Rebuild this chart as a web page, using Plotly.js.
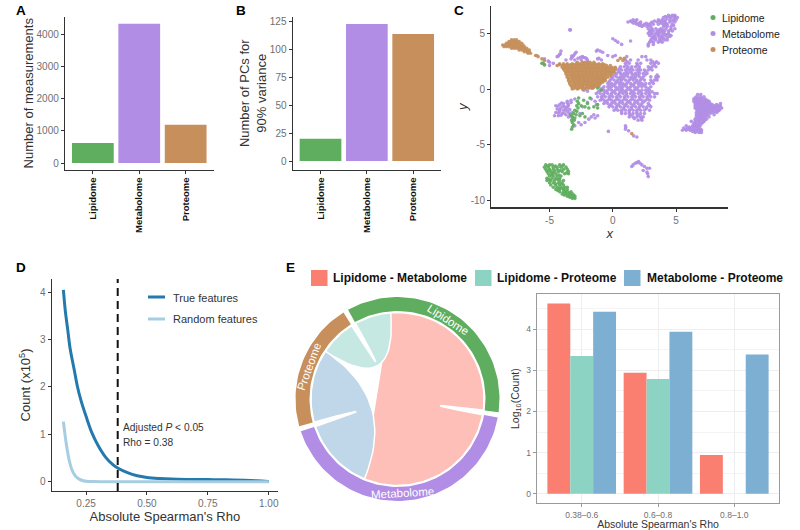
<!DOCTYPE html>
<html>
<head>
<meta charset="utf-8">
<script src="https://cdn.plot.ly/plotly-3.0.1.min.js"></script>
<style>html,body{margin:0;padding:0;background:#fff}#chart{width:800px;height:530px}</style>
</head>
<body>
<div id="chart"></div>
<script>
// ---------- data ----------
const omics = ['Lipidome', 'Metabolome', 'Proteome'];
const omicColors = ['#5fae60', '#b18de5', '#c68f5b'];
const measurements = [625, 4320, 1190];
const pcsFor90 = [20, 123, 114];

// UMAP points, each row: [y, x, x, ...]
const lipidomeRows = [
 [-6.8,-5.3,-5.0,-4.8,-4.2,-3.9],[-7.0,-5.4,-5.1,-4.7,-4.4,-4.1,-3.7],[-7.2,-5.3,-5.0,-4.7,-4.4,-3.9,-3.6],
 [-7.4,-5.2,-4.9,-4.6,-4.3,-4.0,-3.5],[-7.6,-5.1,-4.8,-4.5,-3.8,-3.5],[-7.8,-5.0,-4.7,-4.4,-4.1],
 [-8.0,-5.2,-4.8,-4.5,-4.2],[-8.2,-5.2,-4.9,-4.6,-4.2,-3.9],[-8.4,-5.0,-4.7,-4.3,-4.0],[-8.6,-4.9,-4.5,-4.2,-3.9],
 [-8.8,-4.7,-4.4,-4.1,-3.8,-3.6],[-9.0,-4.5,-4.2,-3.9,-3.6],[-9.2,-4.2,-3.9,-3.6,-3.3],[-9.4,-4.0,-3.7,-3.4,-3.2],
 [-9.6,-3.6,-3.3,-3.0],[-9.8,-3.2,-3.0],
 [-6.9,-5.15,-4.55,-4.0],[-7.3,-5.05,-4.15],[-7.5,-4.75,-3.65],[-7.7,-4.85,-4.25],[-8.1,-5.05,-4.35],[-8.5,-4.55,-4.1],
 [-8.9,-4.25,-3.95],[-9.1,-4.35,-3.75],[-9.3,-3.75,-3.45],[-9.5,-3.85,-3.5,-3.1],[-9.7,-3.4,-3.1],
 [-0.8,-2.7,-1.8],[-1.0,-2.3],[-1.1,-2.8],[-1.3,-2.7,-2.0],[-1.4,-1.2],[-1.5,-2.85,-2.5],[-1.6,-2.2,-1.5],[-1.7,-2.75,-1.9,-1.2],
 [-1.9,-3.0],[-2.0,-2.85],[-2.2,-3.1,-2.4],[-2.3,-2.9,-3.35],[-2.4,-2.6],[-2.5,-3.2,-2.2],[-2.6,-3.0],[-2.8,-3.05,-3.25],
 [-3.0,-3.2],[-3.2,-3.1],[-3.4,-3.2],[-3.6,-3.25],[2.3,-5.6,-5.5],[2.15,-5.4],[0.2,-1.5],[0.1,-1.2],[-0.1,-0.9]
];
const metabolomeRows = [
 [6.6,4.4,4.7,4.9],[6.4,4.0,4.3,4.6,4.9,5.1],[6.2,1.6,1.9,3.6,3.9,4.2,4.5,4.8,5.0],[6.0,1.2,1.5,1.8,2.2,3.1,3.5,3.8,4.1,4.5,4.9],
 [5.8,1.9,2.2,2.5,2.8,3.2,3.6,4.0,4.3,4.7],[5.6,2.3,2.7,3.0,4.0,4.3,4.6],[5.4,2.8,3.1,3.4,3.8,4.2,4.6,4.9],
 [5.2,2.9,3.2,3.5,3.8,4.1,4.4,4.7],[5.0,2.8,3.1,3.4,3.7,4.0,4.4],[4.8,2.9,3.3,3.6,3.9,4.2,4.6],[4.6,3.1,3.4,3.7,4.0,4.3],
 [4.4,3.0,3.4,3.7,4.1,4.3],[4.2,2.9,3.2,3.6,3.9],[4.0,2.8,3.2],[3.85,2.8],
 [6.5,4.15,4.55,4.85],[6.1,1.4,1.75,3.3,3.7,4.05,4.7],[5.9,1.65,2.05,2.65,3.0,3.85,4.2],[5.7,2.1,2.45,2.85,4.15,4.8],
 [5.3,3.05,3.65,3.95,4.55],[5.1,2.95,3.6,3.95],[4.9,3.0,3.55,4.15,4.4],[4.7,3.2,3.85,4.5],[4.5,3.25,3.9],[4.3,3.05,3.8],
 [5.3,-3.4,-3.35],[4.5,0],[4.35,0.2],[4.2,0.4],[4.0,0.7],[4.3,1.4],[3.5,-1.2],[3.4,-1.0,-4.1,-1.3],[3.3,-2.9,-0.8],[3.1,-4.2],[3.0,-3.1,0.2,-0.4,-6.0],
 [3.15,-3.0,-4.15],[2.95,-4.3,-3.25],[2.85,-3.2,-2.35,-2.55],[2.75,-2.1,-2.75,-1.1],
 [2.9,-4.4,-2.4,0],[2.8,-2.2],[2.7,-3.3,-1.2,-5.4],[2.6,-3.7,-3.0,-2.5,-2.0,-0.9],[2.5,-5.1],[2.4,-5.0],[2.3,-4.7],[2.2,-5.4],[2.1,-5.0],
 [2.9,1.1,2.3,2.6],[2.6,1.0,1.4,2.0,2.7,3.0],[2.3,1.0,1.3,1.9,2.2,3.0,3.3,3.6],[2.0,0.6,0.9,1.2,1.5,1.8,2.1,2.8,3.1,3.4],
 [1.7,0.4,0.7,1.0,1.3,1.6,1.9,2.2,2.5,2.8,3.1],[1.4,0.3,0.6,0.9,1.2,1.5,1.8,2.1,2.4,2.7],
 [1.1,0,0.3,0.6,0.9,1.2,1.5,1.8,2.1,2.4,3.0,3.4,3.6],[0.8,-0.2,0.1,0.4,0.7,1.0,1.3,1.6,1.9,2.2,2.5,3.0,3.3,3.5],
 [0.5,-0.4,-0.1,0.2,0.5,0.8,1.1,1.4,1.7,2.0,2.3,2.6,2.9,3.2],[0.2,-0.7,-0.4,-0.1,0.2,0.5,0.8,1.1,1.4,1.7,2.0,2.3,2.6,3.0],
 [-0.1,-1.0,-0.7,-0.4,-0.1,0.2,0.5,0.8,1.1,1.4,1.7,2.0,2.3,2.6,2.9,-2.3],[-0.4,-1.3,-1.0,-0.7,-0.4,-0.1,0.2,0.5,0.8,1.1,1.4,1.7,2.0,2.3,2.6,2.9,3.3,3.5],
 [-0.7,-1.2,-0.9,-0.6,-0.3,0,0.3,0.6,0.9,1.2,1.5,1.8,2.1,2.4,2.7,3.0,3.3],[-1.0,-1.0,-0.7,-0.4,-0.1,0.2,0.5,0.8,1.1,1.4,1.7,2.0,2.3,2.6,2.9],
 [-1.3,-0.7,-0.4,-0.1,0.2,0.5,0.8,1.1,1.4,1.7,2.0,2.3,2.8],[-1.6,-0.3,0,0.3,0.6,0.9,1.2,1.5,1.8,2.1,2.4,2.7,3.0],
 [-1.9,0.1,0.4,0.7,1.0,1.3,1.6,1.9,2.2,2.5,2.9],[-2.2,0.7,1.0,1.3,1.6,1.9,2.2,2.5],[-2.5,1.3,1.6,1.9,2.2,2.4],[-2.8,2.0,2.3],
 [2.45,1.15,3.15,3.45],[2.15,1.05,1.95,3.25],[1.85,0.55,1.15,1.45,2.05,2.95],
 [1.55,0.5,1.1,1.42,2.03,2.6],[1.25,0.15,0.75,1.05,1.65,1.95,2.55,3.5],[0.95,-0.1,0.52,0.8,1.43,1.7,2.3,3.45],
 [0.65,-0.3,0.3,0.6,1.2,1.83,2.1,3.1],[0.35,-0.25,0.05,0.65,0.95,1.55,2.15,2.45],
 [0.05,-0.85,-0.25,0.35,0.68,1.25,1.85,2.8],[-0.25,-1.15,-0.55,0.05,0.65,0.97,1.55,2.15,2.75,3.1],
 [-0.55,-0.75,-0.15,0.45,1.05,1.62,2.25,2.85],[-0.85,-0.85,-0.25,0.35,0.95,1.55,2.15,2.75],
 [-1.15,-0.55,0.05,0.65,1.25,1.85,2.45],[-1.45,-0.2,0.4,1.0,1.6,2.2,2.9],
 [-1.75,0.25,0.85,1.45,2.05,2.65],[-2.05,0.7,1.3,1.9],[-2.35,1.4,2.0],[-2.65,1.7,2.25],
 [-3.3,1.0],[-3.45,1.02],[-3.6,1.0],[-3.75,1.25],[-4.2,1.65],[-4.3,1.9],[-3.8,-0.35],
 [-6.5,2.03],[-6.6,1.9],[-6.65,1.77,2.15],[-6.8,2.3,1.6],[-6.95,1.5,2.5],[-7.1,2.7,2.9],[-7.3,2.4],[-7.45,2.7],[-7.6,2.75],[-7.85,2.8],
 [-0.2,-2.0],[0.1,-1.7],[0.3,-1.4],[0.2,-1.1],
 [-0.9,-3.0,-1.7],[-1.0,-3.3],[-1.1,-3.6,-1.4],[-1.2,-3.3,-2.0],[-1.3,-3.9],[-1.4,-4.2,-3.5,-1.3],[-1.5,-4.5],[-1.6,-3.8,-2.4],
 [-1.7,-3.6,-4.1],[-1.8,-4.4],[-1.9,-3.9],[-2.0,-3.6,-4.2],[-2.1,-4.5,-3.2],[-2.2,-4.0,-2.6],[-2.3,-3.7,-1.5],[-2.4,-4.6,-4.3,-3.3,-1.2],
 [-2.5,-1.7],[-2.6,-3.2,-1.4],[-2.7,-1.9],[-3.0,-2.7,-2.2],[-3.2,-2.5],[-3.3,-3.0],
 [-1.25,-3.6,-4.05],[-1.55,-4.35,-3.95,-3.55],[-1.85,-4.2,-3.75,-3.4],[-2.15,-4.3,-3.85,-3.45],[-2.35,-4.1],[-2.5,-3.5],
 [-0.5,6.7,6.95],[-0.7,6.6,6.9,7.2],[-0.9,6.4,6.7,7.0,7.3],[-1.1,6.4,6.7,7.0,7.3,7.6],[-1.3,6.5,6.8,7.1,7.4,7.7,8.5],
 [-1.5,6.5,6.8,7.1,7.4,7.7,8.0,8.3,8.5],[-1.7,6.5,6.8,7.1,7.4,7.7,8.0,8.3,8.6],[-1.9,6.7,7.0,7.3,7.6,7.9,8.2,8.4],
 [-2.1,6.6,6.9,7.2,7.5,7.9,8.2],[-2.3,6.6,6.9,7.2,7.5,8.0],[-2.5,6.6,6.9,7.2,7.6],[-2.7,6.5,6.8,7.1,7.4],[-2.9,6.2,6.5,6.8,7.2],
 [-3.1,6.4,6.7,7.0],[-3.3,5.8,6.3,6.6,6.9],[-3.5,5.6,5.9,6.2,6.5,6.8],[-3.7,5.5,5.8,6.1,6.4,6.7,7.0],[-3.9,6.5,6.8,7.0],
 [-0.8,6.5,6.8,7.05],[-1.0,6.55,6.85,7.15,7.45],[-1.2,6.55,6.85,7.2,7.5],[-1.4,6.65,6.95,7.25,7.55,7.85,8.2],[-1.6,6.65,6.95,7.25,7.55,7.85,8.15,8.45],
 [-1.8,6.6,6.9,7.2,7.5,7.8,8.1,8.45],[-2.0,6.8,7.1,7.4,7.7,8.05,8.3],[-2.2,6.75,7.05,7.35,7.7],[-2.4,6.75,7.05,7.4],[-2.6,6.75,7.0,7.3],[-2.8,6.65,6.95,7.25],[-3.0,6.55,6.85,7.1],[-3.2,6.5,6.8],[-3.4,6.05,6.4,6.7],[-3.6,5.75,6.05,6.35,6.65,6.95],[-3.8,6.3,6.6,6.9]
];
const proteomeRows = [
 [4.4,-8.0,-7.8,-7.6],[4.25,-8.2,-8.0,-7.8,-7.6,-7.4],[4.1,-8.4,-8.2,-8.0,-7.8,-7.6,-7.4,-7.2],
 [3.95,-8.7,-8.5,-8.3,-8.1,-7.9,-7.7,-7.5,-7.3,-7.1],[3.8,-8.6,-8.4,-8.2,-8.0,-7.8,-7.6,-7.4,-7.2,-7.0],
 [3.65,-8.0,-7.8,-7.6,-7.4,-7.2,-7.0,-6.8],[3.5,-7.4,-7.2,-7.0,-6.8,-6.6],[3.35,-7.0,-6.8,-6.6],[3.2,-6.7,-6.5],
 [3.0,-6.1],[2.9,-5.9],[2.7,-5.6],[2.55,-5.4],[2.75,0.6,0.9],[2.55,0.4,0.8],
 [2.4,-2.8,-2.4,-2.2,-2.0,-1.8,-1.5],[2.25,-4.2,-3.9,-3.6,-3.2,-2.9,-2.6,-2.3,-2.0,-1.7,-1.4,-1.1,-0.8],
 [2.1,-4.4,-4.0,-3.8,-3.5,-3.2,-2.9,-2.6,-2.3,-2.0,-1.7,-1.4,-1.1,-0.8,-0.5,-0.2],
 [1.95,-4.0,-3.7,-3.4,-3.1,-2.8,-2.5,-2.2,-1.9,-1.6,-1.3,-1.0,-0.7,-0.4,-0.1,0.2],
 [1.8,-3.9,-3.6,-3.3,-3.0,-2.7,-2.4,-2.1,-1.8,-1.5,-1.2,-0.9,-0.6,-0.3,0,0.2],
 [1.65,-3.8,-3.5,-3.2,-2.9,-2.6,-2.3,-2.0,-1.7,-1.4,-1.1,-0.8,-0.5,-0.2,0.1],
 [1.5,-3.7,-3.4,-3.1,-2.8,-2.5,-2.2,-1.9,-1.6,-1.3,-1.0,-0.7,-0.4,-0.1,0.1],
 [1.35,-3.7,-3.3,-3.0,-2.7,-2.4,-2.1,-1.8,-1.5,-1.2,-0.9,-0.6,-0.3,-0.1],
 [1.2,-3.6,-3.3,-3.0,-2.7,-2.4,-2.1,-1.8,-1.5,-1.2,-0.9,-0.6,-0.2],
 [1.05,-3.6,-3.2,-2.9,-2.6,-2.3,-2.0,-1.7,-1.4,-1.1,-0.8,-0.4],
 [0.9,-3.5,-3.2,-2.9,-2.6,-2.3,-2.0,-1.7,-1.4,-1.1,-0.8,-0.6],
 [0.75,-3.5,-3.1,-2.8,-2.5,-2.2,-1.9,-1.6,-1.3,-1.0,-0.8,-0.6],
 [0.6,-3.4,-3.1,-2.8,-2.5,-2.2,-1.9,-1.6,-1.3,-1.0,-0.8],
 [0.45,-3.4,-3.0,-2.7,-2.4,-2.1,-1.8,-1.5,-1.2,-1.0],[0.3,-3.3,-3.0,-2.7,-2.4,-2.1,-1.8,-1.6,-1.3],
 [0.15,-3.2,-2.9,-2.6,-2.4,-2.0,-1.7,-1.5],[0,-3.2,-2.8,-2.4,-2.2],[-4.0,1.5],
 [2.175,-4.25,-3.65,-3.35,-3.05,-2.75,-2.45,-2.15,-1.85,-1.55,-1.25,-0.95,-0.65],
 [1.875,-3.8,-3.5,-3.2,-2.9,-2.6,-2.3,-2.0,-1.7,-1.4,-1.1,-0.8,-0.5,-0.2,0.1],
 [1.575,-3.6,-3.3,-3.0,-2.7,-2.4,-2.1,-1.8,-1.5,-1.2,-0.9,-0.6,-0.3,0],
 [1.275,-3.5,-3.15,-2.85,-2.55,-2.25,-1.95,-1.65,-1.35,-1.05,-0.75,-0.45],
 [0.975,-3.4,-3.05,-2.75,-2.45,-2.15,-1.85,-1.55,-1.25,-0.95,-0.65],
 [0.675,-3.3,-2.95,-2.65,-2.35,-2.05,-1.75,-1.45,-1.15,-0.9],
 [0.375,-3.2,-2.85,-2.55,-2.25,-1.95,-1.65,-1.35,-1.1],
 [0.075,-3.05,-2.7,-2.3,-2.1,-1.9,-1.6]
];

// Chord: flows between the three omics, in degrees of the circle
const chordLM = 102, chordLP = 24.5, chordMP = 49;
const gapDeg = 3, startDeg = -29;

// Density curves
const trueX = [0.157,0.165,0.175,0.185,0.2,0.215,0.23,0.25,0.275,0.3,0.33,0.36,0.38,0.42,0.46,0.5,0.55,0.6,0.68,0.75,0.82,0.9,0.95,1.0];
const trueY = [4.05,3.6,3.2,2.8,2.4,2.0,1.7,1.38,1.02,0.76,0.52,0.36,0.29,0.19,0.125,0.09,0.068,0.055,0.048,0.045,0.04,0.03,0.02,0.005];
const randX = [0.157,0.163,0.17,0.18,0.19,0.2,0.21,0.22,0.235,0.25,0.28,0.32,0.5,0.75,1.0];
const randY = [1.27,1.02,0.76,0.47,0.28,0.17,0.1,0.06,0.025,0.01,0.002,0,0,0,0];
const cutoff = 0.38;

// Log10 bars
const rhoBins = ['0.38–0.6', '0.6–0.8', '0.8–1.0'];
const pairNames = ['Lipidome - Metabolome', 'Lipidome - Proteome', 'Metabolome - Proteome'];
const pairColors = ['#fb7f70', '#8dd3c4', '#7dafd3'];
const chordColors = ['#fdbfb8', '#c6e8e2', '#bfd7e9'];
const logLM = [4.63, 2.94, 0.94];
const logLP = [3.35, 2.79, null];
const logMP = [4.43, 3.94, 3.39];

// ---------- helpers ----------
const W = 800, H = 530;
const dx = (a, b) => [a / W, b / W];
const dy = (top, bot) => [1 - bot / H, 1 - top / H];
const expand = rows => {
  const x = [], y = [];
  rows.forEach(r => r.slice(1).forEach(v => { x.push(v); y.push(r[0]); }));
  return {x, y};
};
const axisInk = '#333333', tickInk = '#6f6f6f';
const FONT = 'Liberation Sans, Arial, sans-serif';
const classicX = {showline:true, linecolor:axisInk, linewidth:1.2, ticks:'outside', ticklen:3, tickcolor:axisInk, showgrid:false, zeroline:false, tickfont:{size:10,color:tickInk}};
const classicY = Object.assign({}, classicX);

const traces = [];
// A, B
[[measurements,'x','y'],[pcsFor90,'x2','y2']].forEach(s => {
  traces.push({type:'bar', x:omics, y:s[0], xaxis:s[1], yaxis:s[2], marker:{color:omicColors, line:{width:0}}, showlegend:false, hoverinfo:'x+y'});
});
// C
[[metabolomeRows,1],[lipidomeRows,0],[proteomeRows,2]].forEach(s => {
  const p = expand(s[0]);
  traces.push({type:'scatter', mode:'markers', x:p.x, y:p.y, xaxis:'x3', yaxis:'y3', name:omics[s[1]],
    marker:{size:3.6, color:omicColors[s[1]], opacity:0.92, line:{width:0}}, showlegend:false});
});
// D
traces.push({type:'scatter', mode:'lines', x:trueX, y:trueY, xaxis:'x4', yaxis:'y4', line:{color:'#2479ad', width:3, shape:'spline'}, name:'True features', showlegend:false});
traces.push({type:'scatter', mode:'lines', x:randX, y:randY, xaxis:'x4', yaxis:'y4', line:{color:'#a6cde2', width:3, shape:'spline'}, name:'Random features', showlegend:false});
traces.push({type:'scatter', mode:'lines', x:[cutoff,cutoff], y:[-0.196,4.28], xaxis:'x4', yaxis:'y4', line:{color:'#111', width:2, dash:'8px,5px'}, showlegend:false, hoverinfo:'skip'});

// E chord
const RO = 102, RI = 88, RC = 86.5;
const rad = d => d * Math.PI / 180;
const pt = (d, r) => [r * Math.sin(rad(d)), r * Math.cos(rad(d))];
const arcPts = (a, b, r) => { const n = Math.max(2, Math.ceil(Math.abs(b-a)/2)), o = []; for (let i=0;i<=n;i++) o.push(pt(a+(b-a)*i/n, r)); return o; };
const ribbonEdge = (a, b, r) => {
  let sep = Math.abs(a - b) % 360; if (sep > 180) sep = 360 - sep;
  const s = rad(a), e = rad(b);
  const mx = Math.sin(s)+Math.sin(e), my = Math.cos(s)+Math.cos(e);
  const len = Math.hypot(mx, my) || 1;
  const apex = Math.max(0.5 * Math.cos(rad(sep/2)), 0.25);
  const c = (2 * apex - Math.cos(rad(sep/2))) * r;
  const C = [c*mx/len, c*my/len], P0 = pt(a, r), P1 = pt(b, r), o = [];
  for (let i=0;i<=30;i++) { const t=i/30, u=1-t;
    o.push([u*u*P0[0]+2*u*t*C[0]+t*t*P1[0], u*u*P0[1]+2*u*t*C[1]+t*t*P1[1]]); }
  return o;
};
const lipS = startDeg, lipMid = lipS + chordLP, lipE = lipMid + chordLM;
const metS = lipE + gapDeg, metMid = metS + chordLM, metE = metMid + chordMP;
const proS = metE + gapDeg, proMid = proS + chordMP, proE = proMid + chordLP;
const addPoly = (pts, fill, lw) => traces.push({type:'scatter', mode:'lines', x:pts.map(p=>p[0]), y:pts.map(p=>p[1]), xaxis:'x5', yaxis:'y5',
  fill:'toself', fillcolor:fill, line:{color:lw?'#ffffff':fill, width:lw||0}, showlegend:false, hoverinfo:'skip'});
const ringPts = (a,b) => arcPts(a,b,RO).concat(arcPts(b,a,RI));
const ribbon = (a1,a2,b1,b2) => arcPts(a1,a2,RC).concat(ribbonEdge(a2,b1,RC)).concat(arcPts(b1,b2,RC)).concat(ribbonEdge(b2,a1,RC));
addPoly(ribbon(lipMid,lipE,metS,metMid), chordColors[0], 1.5);
addPoly(ribbon(proMid,proE,lipS,lipMid), chordColors[1], 1.5);
addPoly(ribbon(metMid,metE,proS,proMid), chordColors[2], 1.5);
addPoly(ringPts(lipS,lipE), omicColors[0]);
addPoly(ringPts(metS,metE), omicColors[1]);
addPoly(ringPts(proS,proE), omicColors[2]);

// E bars
[logLM, logLP, logMP].forEach((v,i) => traces.push({type:'bar', x:rhoBins, y:v, xaxis:'x6', yaxis:'y6', name:pairNames[i], marker:{color:pairColors[i], line:{width:0}}, showlegend:false}));

// ---------- annotations ----------
const paperText = (text,x,y,o) => Object.assign({text, xref:'paper', yref:'paper', x:x/W, y:1-y/H, showarrow:false, xanchor:'left', yanchor:'middle', font:{family:FONT,size:10,color:'#222'}}, o||{});
const annotations = [];
[['A',14,0.5],['B',234,0.5],['C',452,0.5],['D',14,258],['E',284,258]].forEach(l => annotations.push(paperText('<b>'+l[0]+'</b>',l[1],l[2],{yanchor:'top', font:{family:FONT,size:13.5,color:'#000'}})));
// C legend text
omics.forEach((n,i) => annotations.push(paperText(n,720,17.5+i*16,{font:{family:FONT,size:10.5,color:'#222'}})));
// D legend + note
annotations.push(paperText('True features',171,297.5,{font:{family:FONT,size:11,color:'#333'}}));
annotations.push(paperText('Random features',171,319,{font:{family:FONT,size:11,color:'#333'}}));
annotations.push(paperText('Adjusted <i>P</i> &lt; 0.05',121,427,{font:{family:FONT,size:10.2,color:'#333'}}));
annotations.push(paperText('Rho = 0.38',121,442,{font:{family:FONT,size:10.2,color:'#333'}}));
// E legend
[331,495,645].forEach((x,i) => annotations.push(paperText('<b>'+pairNames[i]+'</b>',x,278,{font:{family:FONT,size:12,color:'#111'}})));
// Ring labels
[['Lipidome',(lipS+lipE)/2-1.5,33],['Metabolome',176.7,-3.3],['Proteome',290,-70]].forEach(l => {
  const p = pt(l[1],94.5);
  annotations.push({text:l[0], xref:'x5', yref:'y5', x:p[0], y:p[1], showarrow:false, textangle:l[2], font:{family:FONT,size:11.5,color:'#fff'}});
});

// ---------- shapes ----------
const shapes = [];
omicColors.forEach((c,i) => shapes.push({type:'circle', xref:'paper', yref:'paper', x0:710.5/W, x1:715.5/W, y0:1-(20+i*16)/H, y1:1-(15+i*16)/H, fillcolor:c, line:{width:0}}));
[['#2479ad',297],['#a6cde2',319]].forEach(s => shapes.push({type:'line', xref:'paper', yref:'paper', x0:148/W, x1:165/W, y0:1-s[1]/H, y1:1-s[1]/H, line:{color:s[0],width:3}}));
[311,475,624].forEach((x,i) => shapes.push({type:'rect', xref:'paper', yref:'paper', x0:x/W, x1:(x+16.5)/W, y0:1-286/H, y1:1-270/H, fillcolor:pairColors[i], line:{width:0}}));

// ---------- layout ----------
const catX = Object.assign({}, classicX, {type:'category', range:[-0.6,2.6], tickangle:-90, tickfont:{size:9.5,color:'#111',family:FONT,weight:'bold'}});
const layout = {
  width:W, height:H, margin:{l:0,r:0,t:0,b:0}, paper_bgcolor:'#fff', plot_bgcolor:'rgba(0,0,0,0)',
  font:{family:FONT}, bargap:0.1, bargroupgap:0, barmode:'group', showlegend:false, hovermode:'closest',
  annotations, shapes,
  xaxis:Object.assign({}, catX, {domain:dx(65,213.5), anchor:'y'}),
  yaxis:Object.assign({}, classicY, {domain:dy(17,169.5), anchor:'x', range:[-200,4530], tickvals:[0,1000,2000,3000,4000],
    title:{text:'Number of measurements', font:{size:13,color:'#333'}, standoff:0}}),
  xaxis2:Object.assign({}, catX, {domain:dx(292.7,441), anchor:'y2'}),
  yaxis2:Object.assign({}, classicY, {domain:dy(17,169.5), anchor:'x2', range:[-7.6,129.2], tickvals:[0,25,50,75,100,125],
    title:{text:'Number of PCs for<br>90% variance', font:{size:13,color:'#333'}, standoff:0}}),
  xaxis3:Object.assign({}, classicX, {domain:dx(491.3,728), anchor:'y3', range:[-9.6,9.1], tickvals:[-5,0,5], ticktext:['-5','0','5'],
    title:{text:'<i>x</i>', font:{size:13,color:'#333'}, standoff:2}}),
  yaxis3:Object.assign({}, classicY, {domain:dy(6,207.3), anchor:'x3', range:[-10.6,7.44], tickvals:[-10,-5,0,5], ticktext:['-10','-5','0','5'],
    title:{text:'<i>y</i>', font:{size:13,color:'#333'}, standoff:0}}),
  xaxis4:Object.assign({}, classicX, {domain:dx(51.7,278), anchor:'y4', range:[0.109,1.038], tickvals:[0.25,0.5,0.75,1], ticktext:['0.25','0.50','0.75','1.00'],
    title:{text:"Absolute Spearman's Rho", font:{size:13,color:'#333'}, standoff:1}}),
  yaxis4:Object.assign({}, classicY, {domain:dy(279,491), anchor:'x4', range:[-0.196,4.28], tickvals:[0,1,2,3,4],
    title:{text:'Count (x10<sup>5</sup>)', font:{size:13,color:'#333'}, standoff:6}}),
  xaxis5:{domain:dx(287.5,507.5), anchor:'y5', range:[-110,110], visible:false, fixedrange:true},
  yaxis5:{domain:dy(289,509), anchor:'x5', range:[-110,110], visible:false, fixedrange:true},
  xaxis6:{domain:dx(536.7,779.3), anchor:'y6', type:'category', range:[-0.59,2.59], showline:true, mirror:true, linecolor:'#9a9a9a', linewidth:1,
    ticks:'outside', ticklen:3, tickcolor:'#9a9a9a', showgrid:true, gridcolor:'#eeeeee', gridwidth:1, zeroline:false, tickfont:{size:8.5,color:tickInk},
    title:{text:"Absolute Spearman's Rho", font:{size:10.5,color:'#333'}, standoff:2}},
  yaxis6:{domain:dy(294,503.3), anchor:'x6', range:[-0.235,4.86], tickvals:[0,1,2,3,4], showline:true, mirror:true, linecolor:'#9a9a9a', linewidth:1,
    ticks:'outside', ticklen:3, tickcolor:'#9a9a9a', showgrid:true, gridcolor:'#eeeeee', gridwidth:1, zeroline:false, tickfont:{size:8.5,color:tickInk},
    minor:{tickvals:[0.5,1.5,2.5,3.5,4.5], showgrid:true, gridcolor:'#f4f4f4', gridwidth:1, ticks:''},
    title:{text:'Log<sub>10</sub>(Count)', font:{size:10.5,color:'#333'}, standoff:4}}
};
Plotly.newPlot('chart', traces, layout, {staticPlot:true, displayModeBar:false});
</script>
</body>
</html>
